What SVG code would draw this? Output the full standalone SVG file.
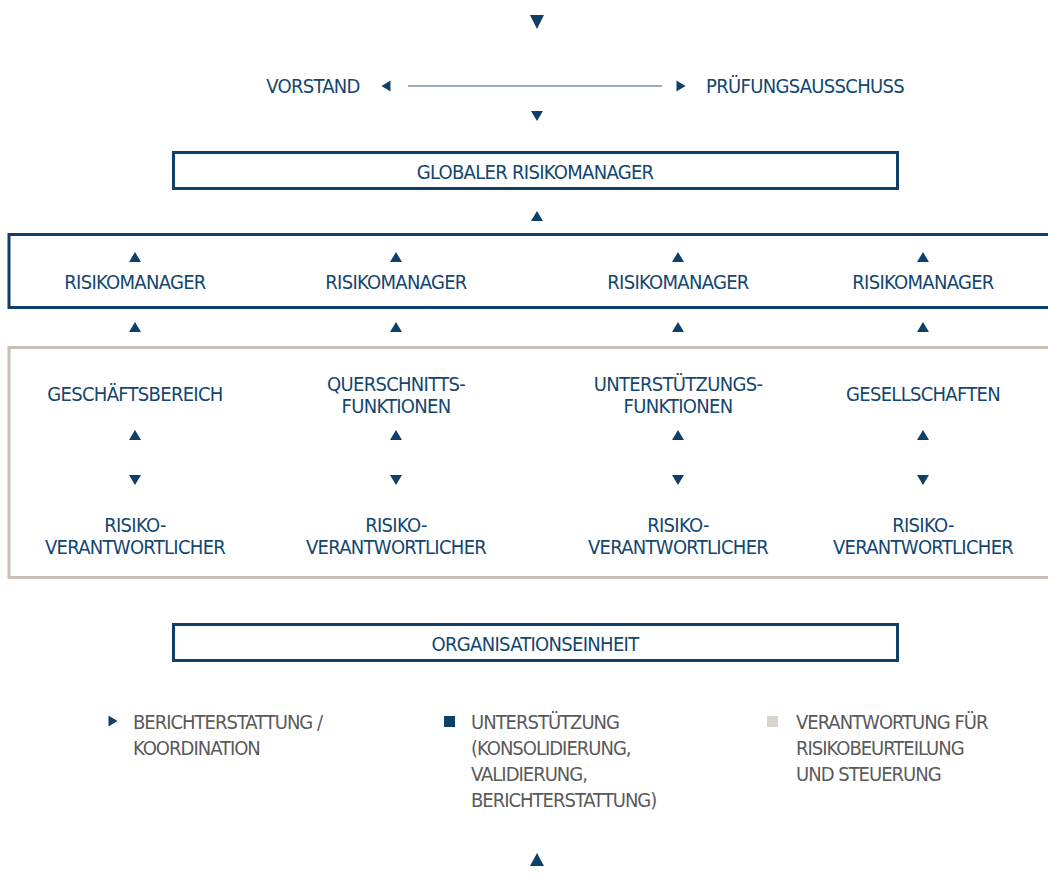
<svg xmlns="http://www.w3.org/2000/svg" width="1048" height="885" viewBox="0 0 1048 885">
  <defs>
    <style>
      .t { font-family: "Liberation Sans Narrow", "DejaVu Sans Condensed", "Liberation Sans", sans-serif; font-size: 20px; letter-spacing: -0.7px; fill: #134670; text-anchor: middle; }
      .lg { font-family: "Liberation Sans Narrow", "DejaVu Sans Condensed", "Liberation Sans", sans-serif; font-size: 20px; letter-spacing: -1px; fill: #5a5a5a; }
      .navybox { fill: #ffffff; stroke: #0f406a; stroke-width: 3; }
      .greybox { fill: #ffffff; stroke: #c9bfb6; stroke-width: 3; }
      .tri { fill: #0f406a; }
      .link { stroke: #7890a8; stroke-width: 1.6; fill: none; }
    </style>
    <path id="up" class="tri" d="M-6,5 L6,5 L0,-5 Z"/>
    <path id="down" class="tri" d="M-6,-5 L6,-5 L0,5 Z"/>
    <path id="left" class="tri" d="M4.5,-5.5 L4.5,5.5 L-4.5,0 Z"/>
    <path id="right" class="tri" d="M-4.5,-5.5 L-4.5,5.5 L4.5,0 Z"/>
  </defs>

  <rect width="1048" height="885" fill="#ffffff"/>

  <!-- frames -->
  <g id="risikomanager-band">
    <rect class="navybox" x="9" y="234.5" width="1060" height="73"/>
  </g>
  <g id="einheiten-band">
    <rect class="greybox" x="9" y="347.5" width="1060" height="230"/>
  </g>

  <g id="vorstand">
    <text class="t" x="313" y="93">VORSTAND</text>
  </g>
  <g id="pruefungsausschuss">
    <text class="t" x="805" y="93">PRÜFUNGSAUSSCHUSS</text>
  </g>

  <g id="globaler-risikomanager">
    <rect class="navybox" x="173.5" y="152.5" width="724" height="36"/>
    <text class="t" x="535" y="179">GLOBALER RISIKOMANAGER</text>
  </g>

  <g id="risikomanager-1"><text class="t" x="135" y="289">RISIKOMANAGER</text></g>
  <g id="risikomanager-2"><text class="t" x="396" y="289">RISIKOMANAGER</text></g>
  <g id="risikomanager-3"><text class="t" x="678" y="289">RISIKOMANAGER</text></g>
  <g id="risikomanager-4"><text class="t" x="923" y="289">RISIKOMANAGER</text></g>

  <g id="geschaeftsbereich"><text class="t" x="135" y="401">GESCHÄFTSBEREICH</text></g>
  <g id="querschnittsfunktionen">
    <text class="t" x="396" y="391">QUERSCHNITTS-</text>
    <text class="t" x="396" y="413">FUNKTIONEN</text>
  </g>
  <g id="unterstuetzungsfunktionen">
    <text class="t" x="678" y="391">UNTERSTÜTZUNGS-</text>
    <text class="t" x="678" y="413">FUNKTIONEN</text>
  </g>
  <g id="gesellschaften"><text class="t" x="923" y="401">GESELLSCHAFTEN</text></g>

  <g id="risikoverantwortlicher-1">
    <text class="t" x="135" y="532">RISIKO-</text>
    <text class="t" x="135" y="554">VERANTWORTLICHER</text>
  </g>
  <g id="risikoverantwortlicher-2">
    <text class="t" x="396" y="532">RISIKO-</text>
    <text class="t" x="396" y="554">VERANTWORTLICHER</text>
  </g>
  <g id="risikoverantwortlicher-3">
    <text class="t" x="678" y="532">RISIKO-</text>
    <text class="t" x="678" y="554">VERANTWORTLICHER</text>
  </g>
  <g id="risikoverantwortlicher-4">
    <text class="t" x="923" y="532">RISIKO-</text>
    <text class="t" x="923" y="554">VERANTWORTLICHER</text>
  </g>

  <g id="organisationseinheit">
    <rect class="navybox" x="173.5" y="624.5" width="724" height="36"/>
    <text class="t" x="535" y="651">ORGANISATIONSEINHEIT</text>
  </g>

  <!-- connectors: arrowheads and the board/committee line -->
  <g id="connectors">
    <path class="tri" d="M530,15 L544,15 L537,29 Z"/>
    <use href="#left" x="386" y="86"/>
    <line class="link" x1="408" y1="86" x2="662" y2="86"/>
    <use href="#right" x="681" y="86"/>
    <use href="#down" x="537" y="116"/>
    <use href="#up" x="537" y="216"/>

    <use href="#up" x="135" y="257"/>
    <use href="#up" x="396" y="257"/>
    <use href="#up" x="678" y="257"/>
    <use href="#up" x="923" y="257"/>

    <use href="#up" x="135" y="327"/>
    <use href="#up" x="396" y="327"/>
    <use href="#up" x="678" y="327"/>
    <use href="#up" x="923" y="327"/>

    <use href="#up" x="135" y="435"/>
    <use href="#up" x="396" y="435"/>
    <use href="#up" x="678" y="435"/>
    <use href="#up" x="923" y="435"/>

    <use href="#down" x="135" y="480"/>
    <use href="#down" x="396" y="480"/>
    <use href="#down" x="678" y="480"/>
    <use href="#down" x="923" y="480"/>

    <path class="tri" d="M530,866 L544,866 L537,853 Z"/>
  </g>

  <!-- legend -->
  <g id="legend-berichterstattung">
    <use href="#right" x="113" y="721"/>
    <text class="lg" x="133" y="729">BERICHTERSTATTUNG /</text>
    <text class="lg" x="133" y="755">KOORDINATION</text>
  </g>
  <g id="legend-unterstuetzung">
    <rect x="444" y="716" width="11" height="11" fill="#0f406a"/>
    <text class="lg" x="471" y="729">UNTERSTÜTZUNG</text>
    <text class="lg" x="471" y="755">(KONSOLIDIERUNG,</text>
    <text class="lg" x="471" y="781">VALIDIERUNG,</text>
    <text class="lg" x="471" y="807">BERICHTERSTATTUNG)</text>
  </g>
  <g id="legend-verantwortung">
    <rect x="767" y="716" width="11" height="11" fill="#d9d3cd"/>
    <text class="lg" x="796" y="729">VERANTWORTUNG FÜR</text>
    <text class="lg" x="796" y="755">RISIKOBEURTEILUNG</text>
    <text class="lg" x="796" y="781">UND STEUERUNG</text>
  </g>
</svg>
